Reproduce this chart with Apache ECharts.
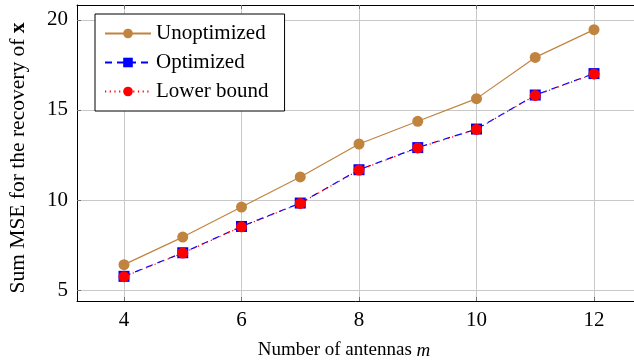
<!DOCTYPE html>
<html>
<head>
<meta charset="utf-8">
<script src="https://cdn.jsdelivr.net/npm/echarts@6/dist/echarts.min.js"></script>
<style>
html,body{margin:0;padding:0;background:#fff;}
#chart{width:634px;height:364px;}
</style>
</head>
<body>
<div id="chart"></div>
<script>
const xValues = [4, 5, 6, 7, 8, 9, 10, 11, 12];
const unoptimized = [6.41, 7.94, 9.61, 11.28, 13.11, 14.37, 15.63, 17.92, 19.46];
const optimized = [5.76, 7.07, 8.53, 9.83, 11.68, 12.91, 13.94, 15.83, 17.02];
const lowerBound = [5.74, 7.05, 8.51, 9.81, 11.66, 12.89, 13.92, 15.81, 17.00];
const xTicks = [4, 6, 8, 10, 12];
const yTicks = [5, 10, 15, 20];
const seriesNames = ['Unoptimized', 'Optimized', 'Lower bound'];

const FONT = '"Liberation Serif", "DejaVu Serif", serif';
const chart = echarts.init(document.getElementById('chart'), null, {renderer: 'canvas'});
const pair = arr => xValues.map((x, i) => [x, arr[i]]);

const tickStyle = {show: true, inside: true, length: 4, lineStyle: {color: '#707070', width: 1}};

chart.setOption({
  animation: false,
  backgroundColor: '#fff',
  textStyle: {fontFamily: FONT},
  grid: {left: 77, top: 5, width: 564, height: 296, containLabel: false, outerBoundsMode: 'none'},
  legend: {
    orient: 'vertical', left: 95, top: 14,
    backgroundColor: '#fff', borderColor: '#000', borderWidth: 1, borderRadius: 0,
    padding: [9, 16, 9, 9], itemGap: 8, itemWidth: 46, itemHeight: 12,
    textStyle: {fontFamily: FONT, fontSize: 21, color: '#000'},
    data: seriesNames
  },
  xAxis: [{
    type: 'value', min: 3.2, max: 12.8,
    axisLine: {show: true, lineStyle: {color: '#000', width: 1}},
    axisTick: Object.assign({customValues: xTicks}, tickStyle),
    axisLabel: {customValues: xTicks, fontFamily: FONT, fontSize: 21, color: '#000', margin: 9},
    splitLine: {show: true, lineStyle: {color: '#c8c8c8', width: 1}},
    name: 'Number of antennas {i|m}', nameLocation: 'middle', nameGap: 40,
    nameTextStyle: {fontFamily: FONT, fontSize: 19, color: '#000', padding: [0, 30, 0, 0],
      rich: {i: {fontFamily: FONT, fontSize: 19, fontStyle: 'italic', color: '#000'}}}
  }, {
    type: 'value', min: 3.2, max: 12.8, position: 'top',
    axisLine: {show: true, onZero: false, lineStyle: {color: '#000', width: 1}},
    axisTick: Object.assign({customValues: xTicks}, tickStyle),
    axisLabel: {show: false},
    splitLine: {show: false}
  }],
  yAxis: [{
    type: 'value', min: 4.39, max: 20.83,
    axisLine: {show: true, lineStyle: {color: '#000', width: 1}},
    axisTick: Object.assign({customValues: yTicks}, tickStyle),
    axisLabel: {customValues: yTicks, fontFamily: FONT, fontSize: 21, color: '#000', margin: 9},
    splitLine: {show: true, lineStyle: {color: '#c8c8c8', width: 1}},
    name: 'Sum MSE for the recovery of {b|x}', nameLocation: 'middle', nameGap: 48,
    nameTextStyle: {fontFamily: FONT, fontSize: 21.5, color: '#000', padding: [0, 10, 0, 0],
      rich: {b: {fontFamily: FONT, fontSize: 21.5, fontWeight: 'bold', color: '#000'}}}
  }],
  series: [{
    name: seriesNames[0], type: 'line', xAxisIndex: 0, data: pair(unoptimized),
    symbol: 'circle', symbolSize: 11,
    itemStyle: {color: '#c0843f'},
    lineStyle: {color: '#c0843f', width: 1.2, type: 'solid'}
  }, {
    name: seriesNames[1], type: 'line', xAxisIndex: 0, data: pair(optimized),
    symbol: 'rect', symbolSize: 11,
    itemStyle: {color: '#0000ff'},
    lineStyle: {color: '#0000ff', width: 1.2, type: [7, 5]}
  }, {
    name: seriesNames[2], type: 'line', xAxisIndex: 0, data: pair(lowerBound),
    symbol: 'circle', symbolSize: 11,
    itemStyle: {color: '#ff0000'},
    lineStyle: {color: '#ff0000', width: 1.2, type: [1.2, 3.5]}
  }]
});
</script>
</body>
</html>
